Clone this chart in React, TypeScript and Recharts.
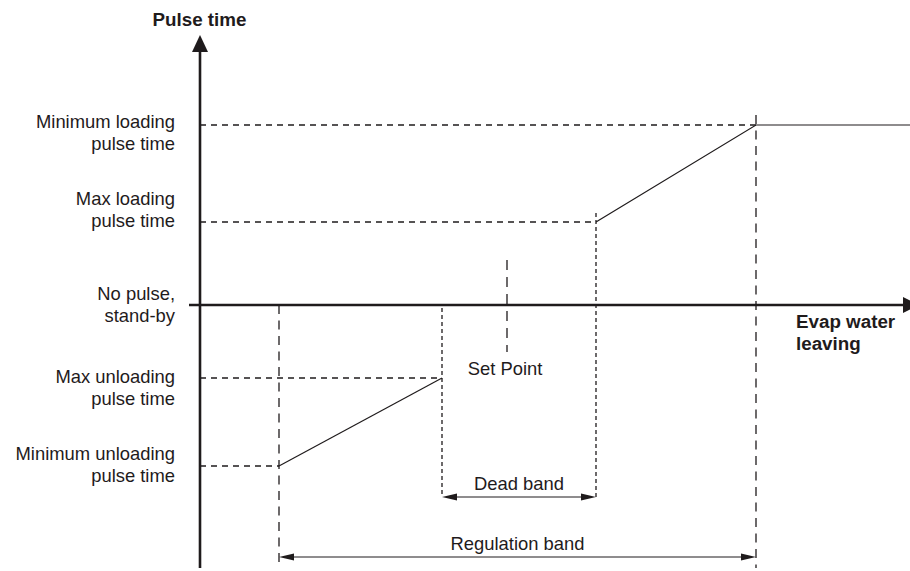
import { ComposedChart, Line, XAxis, YAxis, ReferenceLine } from 'recharts'

// pulse-time levels on the vertical axis (x axis = 0)
const levelValues = [18, 8.3, 0, -7.3, -16.1]
const levelNames = [
  ['Minimum loading', 'pulse time'],
  ['Max loading', 'pulse time'],
  ['No pulse,', 'stand-by'],
  ['Max unloading', 'pulse time'],
  ['Minimum unloading', 'pulse time'],
]

// breakpoints along the evap water leaving axis
const regStart = 7.9
const deadStart = 24.2
const setPoint = 30.7
const deadEnd = 39.6
const regEnd = 55.6
const axisEnd = 71

// the two pieces of the pulse-time curve
const unloading = [
  { t: regStart, p: -16.1 },
  { t: deadStart, p: -7.3 },
]
const loading = [
  { t: deadEnd, p: 8.3 },
  { t: regEnd, p: 18 },
  { t: axisEnd, p: 18 },
]

// dashed guides from the vertical axis to each corner of the curve
const guideLevels = [18, 8.3, -7.3, -16.1]
const guideEnds = [regEnd, deadEnd, deadStart, regStart]

const INK = '#1f1b1c'
const FONT = '"Liberation Sans", Arial, sans-serif'
const FS = 18.4
const FS_BOLD = 18.8
// baseline shift (px) of the first line of each level label
const labelShift = [3.3, -17, -5, 5.3, -6]
const LINE_H = 21.8

function arrowShape(opts: { start?: boolean; end?: boolean; len: number; half: number }) {
  return (p: any) => {
    const { x1, y1, x2, y2, stroke, strokeWidth } = p
    const dx = x2 - x1
    const dy = y2 - y1
    const L = Math.hypot(dx, dy) || 1
    const ux = dx / L
    const uy = dy / L
    const nx = -uy
    const ny = ux
    const head = (tx: number, ty: number, dir: number) => {
      const bx = tx - dir * ux * opts.len
      const by = ty - dir * uy * opts.len
      return `${tx},${ty} ${bx + nx * opts.half},${by + ny * opts.half} ${bx - nx * opts.half},${by - ny * opts.half}`
    }
    const sx = opts.start ? x1 + ux * opts.len * 0.6 : x1
    const sy = opts.start ? y1 + uy * opts.len * 0.6 : y1
    const ex = opts.end ? x2 - ux * opts.len * 0.6 : x2
    const ey = opts.end ? y2 - uy * opts.len * 0.6 : y2
    return (
      <g>
        <line x1={sx} y1={sy} x2={ex} y2={ey} stroke={stroke} strokeWidth={strokeWidth} />
        {opts.start && <polygon points={head(x1, y1, -1)} fill={stroke} />}
        {opts.end && <polygon points={head(x2, y2, 1)} fill={stroke} />}
      </g>
    )
  }
}

function LevelTick(props: any) {
  const { x, y, payload } = props
  const i = levelValues.indexOf(payload.value)
  if (i < 0) return null
  return (
    <text x={x} y={y + labelShift[i]} textAnchor="end" fill={INK} fontSize={FS} fontFamily={FONT}>
      {levelNames[i].map((s, k) => (
        <tspan key={k} x={x} dy={k === 0 ? 0 : LINE_H}>
          {s}
        </tspan>
      ))}
    </text>
  )
}

const bandLabel = (text: string) => (p: any) => {
  const vb = p.viewBox
  return (
    <text x={vb.x + vb.width / 2} y={vb.y - 7} textAnchor="middle" fill={INK} fontSize={FS} fontFamily={FONT}>
      {text}
    </text>
  )
}

export default function App() {
  return (
    <div style={{ position: 'absolute', left: 0, top: 0, fontFamily: FONT }}>
      <ComposedChart width={910} height={571} margin={{ top: 5, right: 0, bottom: 6, left: 0 }}>
        <XAxis type="number" dataKey="t" domain={[0, axisEnd]} allowDataOverflow hide />
        <YAxis
          type="number"
          domain={[-26, 30]}
          allowDataOverflow
          ticks={levelValues}
          interval={0}
          width={200}
          axisLine={false}
          tickLine={false}
          tickSize={0}
          tickMargin={25}
          tick={(p: any) => <LevelTick {...p} />}
        />

        {guideLevels.map((v, i) => (
          <ReferenceLine
            key={'g' + i}
            segment={[{ x: 0, y: v }, { x: guideEnds[i], y: v }]}
            ifOverflow="visible"
            stroke={INK}
            strokeWidth={1.3}
            strokeDasharray="6 5"
          />
        ))}

        <ReferenceLine segment={[{ x: regStart, y: 0 }, { x: regStart, y: -26.3 }]} ifOverflow="visible" stroke={INK} strokeWidth={1.3} strokeDasharray="9 6.5" />
        <ReferenceLine segment={[{ x: regEnd, y: 19 }, { x: regEnd, y: -26.3 }]} ifOverflow="visible" stroke={INK} strokeWidth={1.3} strokeDasharray="9 6.5" />
        <ReferenceLine segment={[{ x: deadStart, y: -0.3 }, { x: deadStart, y: -19.2 }]} ifOverflow="visible" stroke={INK} strokeWidth={1.3} strokeDasharray="4 3" />
        <ReferenceLine segment={[{ x: deadEnd, y: 9.2 }, { x: deadEnd, y: -19.2 }]} ifOverflow="visible" stroke={INK} strokeWidth={1.3} strokeDasharray="4 3" />
        <ReferenceLine
          segment={[{ x: setPoint, y: 4.5 }, { x: setPoint, y: -4.7 }]}
          ifOverflow="visible"
          stroke={INK}
          strokeWidth={1.3}
          strokeDasharray="10 7"
          label={(p: any) => (
            <text x={p.viewBox.x - 2} y={p.viewBox.y + p.viewBox.height + 23} textAnchor="middle" fill={INK} fontSize={FS} fontFamily={FONT}>
              Set Point
            </text>
          )}
        />

        <ReferenceLine
          segment={[{ x: deadStart, y: -19.2 }, { x: deadEnd, y: -19.2 }]}
          ifOverflow="visible"
          stroke={INK}
          strokeWidth={1}
          shape={arrowShape({ start: true, end: true, len: 15, half: 3.5 })}
          label={bandLabel('Dead band')}
        />
        <ReferenceLine
          segment={[{ x: regStart, y: -25.2 }, { x: regEnd, y: -25.2 }]}
          ifOverflow="visible"
          stroke={INK}
          strokeWidth={1}
          shape={arrowShape({ start: true, end: true, len: 15, half: 3.5 })}
          label={bandLabel('Regulation band')}
        />

        <Line data={unloading} dataKey="p" type="linear" stroke={INK} strokeWidth={1.2} dot={false} activeDot={false} isAnimationActive={false} />
        <Line data={loading} dataKey="p" type="linear" stroke={INK} strokeWidth={1.2} dot={false} activeDot={false} isAnimationActive={false} />

        <ReferenceLine
          segment={[{ x: 0, y: -26.3 }, { x: 0, y: 27 }]}
          ifOverflow="visible"
          stroke={INK}
          strokeWidth={2.6}
          shape={arrowShape({ end: true, len: 17, half: 8 })}
          label={(p: any) => (
            <text x={p.viewBox.x - 0.5} y={p.viewBox.y - 9.5} textAnchor="middle" fill={INK} fontSize={FS_BOLD} fontWeight="bold" fontFamily={FONT}>
              Pulse time
            </text>
          )}
        />
        <ReferenceLine
          segment={[{ x: -1.1, y: 0 }, { x: 71.9, y: 0 }]}
          ifOverflow="visible"
          stroke={INK}
          strokeWidth={2.6}
          shape={arrowShape({ end: true, len: 16, half: 8 })}
          label={(p: any) => {
            const lx = p.viewBox.x + p.viewBox.width - 123
            return (
              <text x={lx} y={p.viewBox.y + 23} fill={INK} fontSize={FS_BOLD} fontWeight="bold" fontFamily={FONT}>
                <tspan x={lx}>Evap water</tspan>
                <tspan x={lx} dy={LINE_H}>leaving</tspan>
              </text>
            )
          }}
        />
      </ComposedChart>
    </div>
  )
}
